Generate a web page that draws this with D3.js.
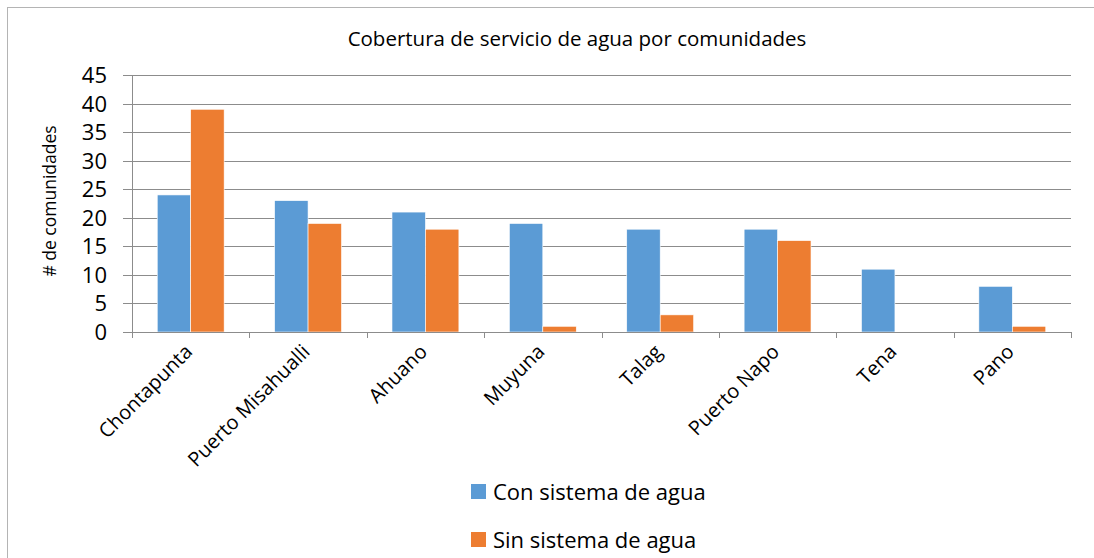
<!DOCTYPE html>
<html>
<head>
<meta charset="utf-8">
<script src="https://cdn.jsdelivr.net/npm/d3@7"></script>
<style>
  body { margin: 0; background: #fff; }
  text { font-family: "Open Sans", "Noto Sans", sans-serif; fill: #000; }
</style>
</head>
<body>
<div id="chart"></div>
<script>
// data
var categories = ["Chontapunta", "Puerto Misahualli", "Ahuano", "Muyuna", "Talag", "Puerto Napo", "Tena", "Pano"];
var conSistema = [24, 23, 21, 19, 18, 18, 11, 8];
var sinSistema = [39, 19, 18, 1, 3, 16, 0, 1];
var seriesNames = ["Con sistema de agua", "Sin sistema de agua"];
var yTicks = [0, 5, 10, 15, 20, 25, 30, 35, 40, 45];

var colors = ["#5B9BD5", "#ED7D31"];

function drawChart() {
  const W = 1094, H = 558;
  const left = 132, right = 1071, top = 75, bottom = 332;

  const svg = d3.select("#chart").append("svg")
    .attr("width", W)
    .attr("height", H);

  // outer frame (runs off the right and bottom edges)
  svg.append("rect")
    .attr("x", 7.5).attr("y", 7.5)
    .attr("width", 1100).attr("height", 600)
    .attr("fill", "none")
    .attr("stroke", "#b4b4b4");

  var rows = categories.map(function(c, i) {
    return { cat: c, values: [conSistema[i], sinSistema[i]] };
  });

  const x0 = d3.scaleBand()
    .domain(categories)
    .range([left, right])
    .paddingInner(0.43)
    .paddingOuter(0.215);

  const x1 = d3.scaleBand()
    .domain([0, 1])
    .range([0, x0.bandwidth()]);

  const y = d3.scaleLinear()
    .domain([0, 45])
    .range([bottom, top]);

  // grid lines
  svg.append("g")
    .selectAll("line")
    .data(yTicks.slice(1))
    .enter()
    .append("line")
    .attr("x1", left - 9).attr("x2", right)
    .attr("y1", d => Math.round(y(d)) + 0.5)
    .attr("y2", d => Math.round(y(d)) + 0.5)
    .attr("stroke", "#8c8c8c")
    .attr("stroke-width", 1);

  // y axis labels
  svg.append("g")
    .selectAll("text")
    .data(yTicks)
    .enter()
    .append("text")
    .attr("x", 107)
    .attr("y", d => y(d) + 8)
    .attr("text-anchor", "end")
    .style("font-size", "22px")
    .text(d => d);

  // bars
  svg.append("g")
    .selectAll("g")
    .data(rows)
    .enter()
    .append("g")
    .attr("transform", d => "translate(" + x0(d.cat) + ",0)")
    .selectAll("rect")
    .data(d => d.values.map((v, k) => ({ k: k, v: v })))
    .enter()
    .append("rect")
    .attr("x", d => x1(d.k))
    .attr("y", d => y(d.v))
    .attr("width", x1.bandwidth())
    .attr("height", d => bottom - y(d.v))
    .attr("fill", d => colors[d.k])
    .attr("stroke", d => d.v > 0 ? "#fff" : "none")
    .attr("stroke-width", 0.6);

  // y axis line
  svg.append("line")
    .attr("x1", left + 0.5).attr("x2", left + 0.5)
    .attr("y1", top).attr("y2", bottom + 6)
    .attr("stroke", "#8c8c8c");

  // x axis line + ticks between categories
  svg.append("line")
    .attr("x1", left - 9).attr("x2", right)
    .attr("y1", bottom + 0.5).attr("y2", bottom + 0.5)
    .attr("stroke", "#8c8c8c");

  var step = x0.step();
  svg.append("g")
    .selectAll("line")
    .data(d3.range(categories.length + 1))
    .enter()
    .append("line")
    .attr("x1", i => Math.round(left + i * step) + 0.5)
    .attr("x2", i => Math.round(left + i * step) + 0.5)
    .attr("y1", bottom).attr("y2", bottom + 6)
    .attr("stroke", "#8c8c8c");

  // category labels
  svg.append("g")
    .selectAll("text")
    .data(categories)
    .enter()
    .append("text")
    .attr("transform", d => "translate(" + (x0(d) + x0.bandwidth() / 2 + 3) + "," + (bottom + 21) + ") rotate(-45)")
    .attr("text-anchor", "end")
    .style("font-size", "20px")
    .text(d => d);

  // title
  svg.append("text")
    .attr("x", 577)
    .attr("y", 46)
    .attr("text-anchor", "middle")
    .style("font-size", "20.5px")
    .text("Cobertura de servicio de agua por comunidades");

  // y axis title
  svg.append("text")
    .attr("transform", "translate(56,201) rotate(-90)")
    .attr("text-anchor", "middle")
    .style("font-size", "17.5px")
    .text("# de comunidades");

  // legend
  var legend = svg.append("g")
    .selectAll("g")
    .data(seriesNames)
    .enter()
    .append("g")
    .attr("transform", (d, i) => "translate(471," + (484 + i * 48) + ")");

  legend.append("rect")
    .attr("width", 15).attr("height", 15)
    .attr("fill", (d, i) => colors[i]);

  legend.append("text")
    .attr("x", 22)
    .attr("y", 16)
    .style("font-size", "22px")
    .text(d => d);
}

drawChart();
</script>
</body>
</html>
